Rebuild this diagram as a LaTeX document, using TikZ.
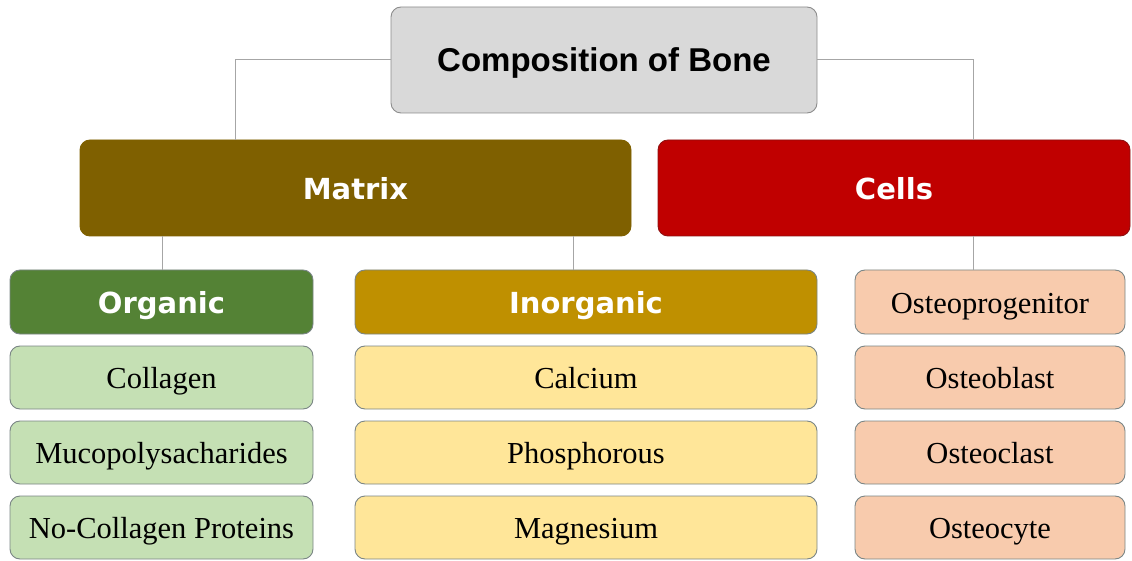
\documentclass[tikz,border=0pt]{standalone}
\usepackage{fontspec}
\setmainfont{Liberation Serif}
\newfontfamily\headfont{Liberation Sans}
\newfontfamily\catfont{DejaVu Sans}
\usetikzlibrary{calc}
\definecolor{topfill}{HTML}{D9D9D9}
\definecolor{topline}{HTML}{8C8C8C}
\definecolor{matfill}{HTML}{7F6000}
\definecolor{cellfill}{HTML}{C00000}
\definecolor{cellline}{HTML}{8E1010}
\definecolor{orgfill}{HTML}{548235}
\definecolor{inofill}{HTML}{BF9000}
\definecolor{greenitem}{HTML}{C5E0B4}
\definecolor{yellowitem}{HTML}{FFE699}
\definecolor{peachitem}{HTML}{F8CBAD}
\definecolor{boxline}{HTML}{7A8585}
\definecolor{connline}{HTML}{A6A6A6}
\tikzset{
  box/.style={rounded corners=10pt, draw=boxline, line width=0.9pt, inner sep=0pt, outer sep=0pt, anchor=north west},
  headbox/.style={box, fill=topfill, draw=topline, minimum width=426pt, minimum height=106pt, text height=26pt, text depth=2pt, font=\headfont\bfseries\fontsize{33}{36}\selectfont},
  catbox/.style={box, minimum height=96pt, text=white, text height=25pt, text depth=2pt, font=\catfont\bfseries\fontsize{29}{32}\selectfont},
  subbox/.style={box, minimum height=64pt, text=white, text height=25pt, text depth=2pt, font=\catfont\bfseries\fontsize{29}{32}\selectfont},
  itembox/.style={box, minimum height=63pt, text height=25pt, text depth=3pt, font=\fontsize{30.5}{33}\selectfont},
  conn/.style={draw=connline, line width=1pt}
}
\begin{document}
\begin{tikzpicture}[x=1pt,y=-1pt]
\useasboundingbox (0,0) rectangle (1132,561);
% header
\node[headbox] (top) at (391,7) {Composition of Bone};
% categories
\node[catbox, fill=matfill, draw=matfill, minimum width=551pt] (matrix) at (80,140) {Matrix};
\node[catbox, fill=cellfill, draw=cellline, minimum width=472pt] (cells) at (658,140) {Cells};
% sub categories
\node[subbox, fill=orgfill, minimum width=303pt] (organic) at (10,270) {Organic};
\node[subbox, fill=inofill, minimum width=462pt] (inorganic) at (355,270) {Inorganic};
\node[itembox, fill=peachitem, minimum width=270pt, minimum height=64pt] (osteoprog) at (855,270) {Osteoprogenitor};
% organic items
\node[itembox, fill=greenitem, minimum width=303pt] (collagen) at (10,346) {Collagen};
\node[itembox, fill=greenitem, minimum width=303pt] (muco) at (10,421) {Mucopolysacharides};
\node[itembox, fill=greenitem, minimum width=303pt] (nocoll) at (10,496) {No-Collagen Proteins};
% inorganic items
\node[itembox, fill=yellowitem, minimum width=462pt] (calcium) at (355,346) {Calcium};
\node[itembox, fill=yellowitem, minimum width=462pt] (phos) at (355,421) {Phosphorous};
\node[itembox, fill=yellowitem, minimum width=462pt] (magn) at (355,496) {Magnesium};
% cell items
\node[itembox, fill=peachitem, minimum width=270pt] (oblast) at (855,346) {Osteoblast};
\node[itembox, fill=peachitem, minimum width=270pt] (oclast) at (855,421) {Osteoclast};
\node[itembox, fill=peachitem, minimum width=270pt] (ocyte) at (855,496) {Osteocyte};
% connectors
\draw[conn] (top.west) -| ([xshift=155pt]matrix.north west);
\draw[conn] (top.east) -| ([xshift=315pt]cells.north west);
\draw[conn] ([xshift=82pt]matrix.south west) -- ([xshift=152pt]organic.north west);
\draw[conn] ([xshift=493pt]matrix.south west) -- ([xshift=218pt]inorganic.north west);
\draw[conn] ([xshift=315pt]cells.south west) -- ([xshift=118pt]osteoprog.north west);
\end{tikzpicture}
\end{document}
